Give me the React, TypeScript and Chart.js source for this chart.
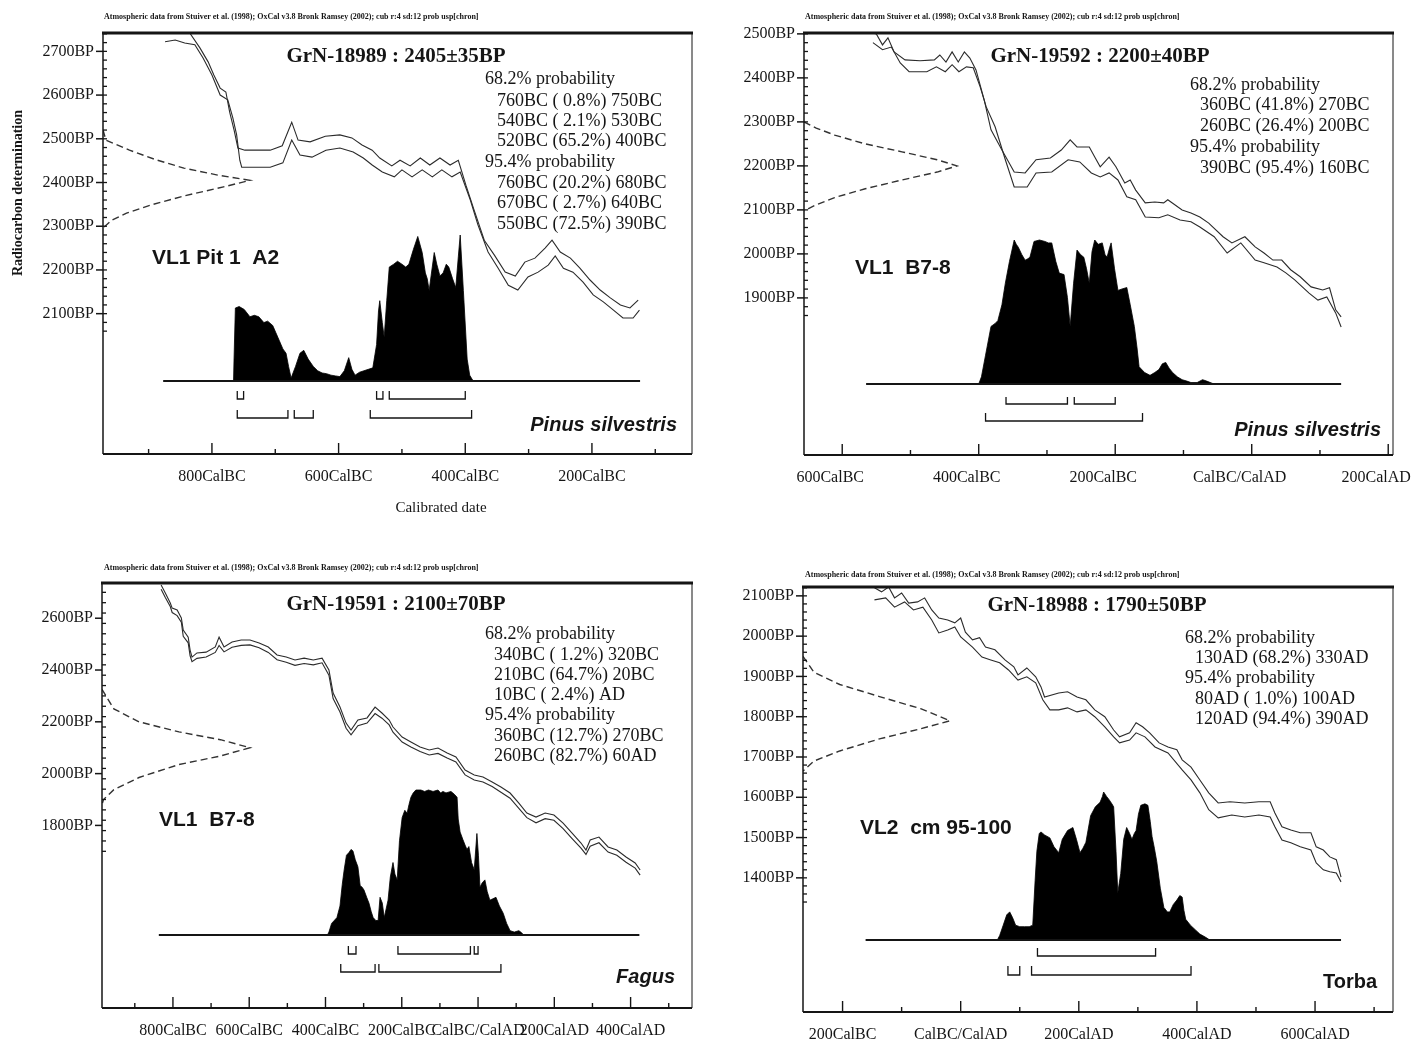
import React, { useEffect, useRef } from "react";
import { Chart, registerables } from "chart.js";

Chart.register(...registerables);

const SERIF = '"Liberation Serif", "Times New Roman", serif';
const SANS = '"Liberation Sans", Arial, sans-serif';
const INK = "#151515";

// ---------------- Panel 1 : GrN-18989 ----------------
const p1UpperYears = [-882, -858, -835, -819, -806, -797, -787, -778, -772, -765, -759, -748, -708, -689, -674, -664, -645, -621, -598, -579, -563, -547, -535, -516, -503, -487, -471, -456, -440, -424, -411, -399, -386, -370, -354, -337, -321, -306, -290, -274, -263, -250, -234, -219, -203, -187, -171, -155, -140, -127];
const p1UpperBP = [2760, 2749, 2742, 2708, 2676, 2646, 2616, 2607, 2561, 2520, 2479, 2474, 2474, 2484, 2538, 2497, 2493, 2506, 2509, 2502, 2486, 2474, 2456, 2438, 2451, 2438, 2456, 2440, 2456, 2440, 2451, 2394, 2337, 2268, 2234, 2195, 2186, 2218, 2227, 2250, 2268, 2241, 2227, 2204, 2177, 2154, 2136, 2120, 2113, 2131];
const p1LowerYears = [-874, -858, -843, -827, -814, -800, -787, -775, -767, -761, -756, -753, -708, -688, -674, -661, -642, -620, -598, -577, -561, -547, -531, -512, -500, -484, -468, -452, -437, -421, -408, -392, -380, -364, -348, -332, -317, -301, -285, -269, -258, -245, -230, -214, -198, -182, -166, -151, -135, -125];
const p1LowerBP = [2722, 2726, 2719, 2715, 2685, 2646, 2600, 2589, 2548, 2509, 2451, 2435, 2435, 2445, 2497, 2463, 2458, 2474, 2479, 2470, 2456, 2440, 2424, 2413, 2429, 2413, 2429, 2413, 2429, 2413, 2424, 2360, 2303, 2241, 2204, 2165, 2154, 2184, 2195, 2211, 2232, 2204, 2195, 2172, 2143, 2127, 2108, 2090, 2090, 2108];
const p1ProbYears = [-766, -763, -757, -749, -740, -733, -726, -718, -712, -704, -699, -694, -688, -683, -679, -675, -668, -661, -655, -648, -640, -633, -626, -619, -612, -605, -598, -591, -584, -579, -574, -567, -560, -553, -546, -540, -537, -535, -531, -528, -524, -520, -513, -507, -500, -494, -489, -482, -475, -468, -463, -460, -457, -454, -449, -445, -440, -435, -430, -426, -420, -415, -411, -408, -403, -397, -393, -389, -386];
const p1Prob = [0, 0.5, 0.51, 0.49, 0.44, 0.45, 0.44, 0.4, 0.41, 0.38, 0.33, 0.28, 0.22, 0.19, 0.1, 0.02, 0.1, 0.19, 0.21, 0.15, 0.1, 0.07, 0.055, 0.05, 0.04, 0.035, 0.03, 0.07, 0.16, 0.08, 0.04, 0.06, 0.07, 0.08, 0.09, 0.25, 0.48, 0.55, 0.4, 0.3, 0.55, 0.78, 0.8, 0.82, 0.8, 0.78, 0.8, 0.9, 0.99, 0.88, 0.74, 0.7, 0.62, 0.72, 0.88, 0.8, 0.72, 0.74, 0.8, 0.78, 0.7, 0.64, 0.85, 1.0, 0.62, 0.15, 0.04, 0.01, 0];
const p1Range68 = [[-760, -750], [-540, -530], [-520, -400]];
const p1Range95 = [[-760, -680], [-670, -640], [-550, -390]];
const p1GaussBP = [2520, 2497, 2474, 2452, 2433, 2417, 2405, 2390, 2370, 2350, 2330, 2314, 2296];
const p1GaussDensity = [0, 0.02, 0.18, 0.36, 0.55, 0.78, 1.0, 0.82, 0.56, 0.34, 0.16, 0.06, 0];
const p1BaselineYears = [-877, -124];
const p1YTickLabels = [2100, 2200, 2300, 2400, 2500, 2600, 2700];
const p1XTickLabels = [-800, -600, -400, -200];

// ---------------- Panel 2 : GrN-19592 ----------------
const p2UpperYears = [-562, -550, -541, -533, -524, -508, -486, -465, -457, -448, -439, -430, -421, -413, -404, -392, -382, -366, -348, -332, -316, -295, -279, -266, -256, -238, -230, -222, -209, -199, -186, -178, -170, -156, -142, -129, -123, -102, -89, -76, -63, -42, -29, -10, 5, 18, 31, 44, 57, 71, 87, 104, 114, 123, 131];
const p2UpperBP = [2505, 2500, 2475, 2491, 2459, 2441, 2439, 2441, 2452, 2436, 2459, 2436, 2459, 2445, 2418, 2350, 2282, 2236, 2186, 2184, 2214, 2218, 2236, 2259, 2243, 2243, 2220, 2198, 2220, 2198, 2161, 2168, 2145, 2116, 2118, 2116, 2123, 2100, 2093, 2084, 2070, 2039, 2025, 2039, 2016, 2002, 1986, 1986, 1964, 1948, 1925, 1918, 1923, 1873, 1857];
const p2LowerYears = [-555, -541, -528, -515, -502, -476, -462, -449, -439, -429, -418, -408, -398, -389, -376, -361, -348, -329, -316, -293, -269, -252, -235, -222, -209, -196, -183, -170, -156, -136, -123, -105, -89, -76, -55, -36, -16, 5, 18, 37, 50, 63, 84, 97, 110, 123, 131];
const p2LowerBP = [2480, 2464, 2470, 2434, 2414, 2414, 2425, 2414, 2430, 2414, 2425, 2423, 2380, 2334, 2289, 2214, 2152, 2152, 2184, 2186, 2214, 2209, 2184, 2175, 2184, 2168, 2130, 2123, 2084, 2082, 2089, 2077, 2073, 2061, 2039, 2002, 2025, 1986, 1980, 1970, 1957, 1941, 1911, 1895, 1902, 1866, 1834];
const p2ProbYears = [-400, -396, -390, -382, -376, -372, -366, -361, -355, -348, -345, -342, -337, -332, -328, -325, -319, -311, -303, -298, -293, -287, -282, -275, -270, -266, -261, -256, -251, -246, -242, -238, -234, -230, -225, -219, -215, -212, -208, -206, -201, -196, -190, -183, -178, -172, -168, -165, -157, -149, -142, -136, -131, -126, -121, -116, -109, -102, -95, -89, -80, -72, -66, -58, -55];
const p2Prob = [0, 0.05, 0.2, 0.4, 0.42, 0.44, 0.55, 0.7, 0.85, 1.0, 0.97, 0.95, 0.9, 0.86, 0.87, 0.88, 0.99, 1.0, 0.99, 0.98, 0.98, 0.85, 0.77, 0.76, 0.6, 0.4, 0.7, 0.93, 0.9, 0.88, 0.8, 0.7, 0.92, 1.0, 0.97, 0.98, 0.9, 0.88, 0.95, 0.98, 0.8, 0.65, 0.66, 0.67, 0.55, 0.4, 0.25, 0.12, 0.08, 0.06, 0.08, 0.1, 0.14, 0.15, 0.11, 0.08, 0.05, 0.03, 0.02, 0.01, 0.01, 0.03, 0.02, 0.005, 0];
const p2Range68 = [[-360, -270], [-260, -200]];
const p2Range95 = [[-390, -160]];
const p2GaussBP = [2300, 2286, 2270, 2250, 2232, 2214, 2200, 2186, 2168, 2148, 2128, 2110, 2098];
const p2GaussDensity = [0, 0.08, 0.2, 0.4, 0.64, 0.87, 1.0, 0.87, 0.64, 0.4, 0.2, 0.07, 0];
const p2BaselineYears = [-565, 131];
const p2YTickLabels = [1900, 2000, 2100, 2200, 2300, 2400, 2500];
const p2XTickLabels = [-600, -400, -200, 0, 200];

// ---------------- Panel 3 : GrN-19591 ----------------
const p3CurveYears = [-831, -820, -807, -802, -789, -778, -773, -760, -755, -750, -737, -713, -689, -679, -666, -645, -621, -598, -574, -550, -527, -503, -480, -456, -432, -409, -391, -380, -362, -346, -333, -315, -291, -270, -252, -233, -223, -199, -176, -152, -128, -105, -81, -58, -34, -10, 13, 37, 60, 84, 107, 128, 152, 176, 199, 223, 246, 270, 283, 294, 317, 341, 364, 388, 412, 425];
const p3UpperBP = [2728, 2697, 2659, 2639, 2632, 2601, 2554, 2527, 2477, 2450, 2466, 2469, 2489, 2527, 2489, 2508, 2516, 2516, 2504, 2489, 2458, 2450, 2439, 2446, 2439, 2446, 2400, 2311, 2257, 2195, 2168, 2207, 2215, 2257, 2234, 2207, 2180, 2141, 2122, 2103, 2091, 2099, 2080, 2064, 2014, 1995, 1987, 1968, 1948, 1925, 1886, 1848, 1832, 1848, 1840, 1809, 1771, 1732, 1705, 1744, 1755, 1717, 1705, 1678, 1655, 1628];
const p3LowerBP = [2712, 2680, 2645, 2622, 2610, 2585, 2530, 2505, 2455, 2432, 2445, 2450, 2468, 2495, 2470, 2488, 2495, 2497, 2486, 2468, 2440, 2430, 2418, 2425, 2420, 2428, 2380, 2290, 2238, 2175, 2150, 2185, 2195, 2232, 2214, 2188, 2160, 2122, 2103, 2085, 2072, 2078, 2060, 2045, 1995, 1975, 1968, 1950, 1928, 1905, 1866, 1830, 1810, 1826, 1820, 1788, 1750, 1712, 1688, 1720, 1733, 1697, 1685, 1658, 1635, 1608];
const p3ProbYears = [-395, -391, -384, -370, -362, -356, -351, -345, -338, -333, -328, -322, -315, -309, -304, -299, -292, -286, -280, -275, -268, -262, -257, -251, -246, -241, -236, -230, -223, -218, -212, -206, -199, -192, -186, -181, -176, -170, -163, -150, -140, -130, -118, -105, -98, -92, -84, -71, -62, -55, -52, -47, -40, -34, -29, -24, -17, -10, -3, 1, 5, 11, 18, 24, 31, 39, 47, 56, 66, 75, 84, 95, 107, 112, 120];
const p3Prob = [0, 0.02, 0.08, 0.12, 0.2, 0.35, 0.45, 0.55, 0.57, 0.59, 0.58, 0.52, 0.47, 0.34, 0.33, 0.31, 0.26, 0.22, 0.16, 0.12, 0.1, 0.1, 0.26, 0.22, 0.12, 0.18, 0.24, 0.4, 0.5, 0.42, 0.38, 0.65, 0.81, 0.86, 0.84, 0.9, 0.95, 0.98, 1.0, 1.0, 0.99, 1.0, 0.99, 1.0, 0.98, 0.99, 0.98, 0.99, 0.97, 0.95, 0.8, 0.71, 0.66, 0.62, 0.59, 0.61, 0.5, 0.45, 0.7, 0.55, 0.33, 0.36, 0.38, 0.3, 0.24, 0.25, 0.26, 0.2, 0.15, 0.08, 0.03, 0.02, 0.03, 0.02, 0];
const p3Range68 = [[-340, -320], [-210, -20], [-10, 0]];
const p3Range95 = [[-360, -270], [-260, 60]];
const p3GaussBP = [2325, 2250, 2200, 2161, 2131, 2100, 2068, 2035, 1985, 1938, 1900, 1880];
const p3GaussDensity = [0, 0.08, 0.25, 0.52, 0.8, 1.0, 0.8, 0.52, 0.25, 0.08, 0.01, 0];
const p3BaselineYears = [-837, 423];
const p3YTickLabels = [1800, 2000, 2200, 2400, 2600];
const p3XTickLabels = [-800, -600, -400, -200, 0, 200, 400];

// ---------------- Panel 4 : GrN-18988 ----------------
const p4UpperYears = [-146, -134, -122, -112, -100, -88, -73, -61, -49, -37, -22, -10, 0, 8, 20, 32, 42, 58, 75, 90, 97, 112, 127, 136, 142, 166, 181, 197, 212, 227, 244, 259, 269, 286, 297, 308, 320, 336, 351, 366, 375, 390, 405, 420, 436, 456, 481, 505, 524, 532, 544, 559, 575, 593, 602, 614, 625, 636, 644];
const p4UpperBP = [2120, 2110, 2122, 2095, 2107, 2082, 2085, 2095, 2065, 2045, 2040, 2033, 2045, 2010, 1991, 1996, 1973, 1966, 1941, 1924, 1904, 1921, 1899, 1874, 1849, 1859, 1862, 1849, 1842, 1817, 1800, 1767, 1750, 1760, 1785, 1775, 1760, 1735, 1725, 1718, 1693, 1675, 1643, 1611, 1586, 1589, 1586, 1589, 1589, 1561, 1527, 1519, 1512, 1512, 1477, 1469, 1452, 1445, 1402];
const p4LowerYears = [-146, -127, -112, -95, -80, -64, -49, -37, -22, -10, 0, 20, 36, 51, 66, 81, 97, 112, 127, 139, 151, 166, 181, 197, 212, 227, 244, 259, 269, 286, 297, 312, 329, 351, 375, 390, 405, 420, 436, 459, 481, 505, 524, 532, 544, 559, 575, 593, 602, 614, 625, 636, 644];
const p4LowerBP = [2090, 2095, 2072, 2085, 2065, 2072, 2040, 2008, 2015, 2023, 1998, 1973, 1948, 1941, 1934, 1916, 1891, 1899, 1884, 1842, 1817, 1817, 1822, 1812, 1817, 1800, 1775, 1750, 1735, 1742, 1760, 1750, 1725, 1710, 1668, 1643, 1611, 1569, 1549, 1556, 1551, 1556, 1551, 1527, 1494, 1487, 1477, 1469, 1437, 1420, 1415, 1412, 1390];
const p4ProbYears = [62, 66, 72, 78, 83, 88, 93, 100, 108, 116, 122, 126, 129, 133, 136, 142, 151, 158, 166, 172, 181, 190, 196, 202, 207, 212, 216, 220, 228, 236, 240, 242, 247, 251, 256, 259, 263, 266, 271, 276, 281, 286, 290, 294, 297, 301, 305, 312, 317, 321, 324, 328, 332, 338, 344, 350, 354, 360, 366, 371, 375, 378, 381, 389, 397, 405, 414, 420, 424];
const p4Prob = [0, 0.03, 0.1, 0.17, 0.19, 0.15, 0.1, 0.09, 0.09, 0.09, 0.1, 0.4, 0.6, 0.72, 0.73, 0.71, 0.69, 0.63, 0.59, 0.68, 0.74, 0.76, 0.68, 0.59, 0.62, 0.66, 0.75, 0.84, 0.9, 0.93, 0.97, 1.0, 0.97, 0.95, 0.92, 0.9, 0.6, 0.32, 0.45, 0.68, 0.76, 0.72, 0.68, 0.72, 0.74, 0.85, 0.91, 0.92, 0.91, 0.8, 0.7, 0.62, 0.53, 0.35, 0.22, 0.19, 0.19, 0.24, 0.27, 0.3, 0.29, 0.2, 0.14, 0.1, 0.07, 0.04, 0.02, 0.005, 0];
const p4Range68 = [[130, 330]];
const p4Range95 = [[80, 100], [120, 390]];
const p4GaussBP = [1950, 1910, 1880, 1850, 1820, 1790, 1770, 1745, 1715, 1690, 1665];
const p4GaussDensity = [0, 0.075, 0.25, 0.52, 0.8, 1.0, 0.8, 0.52, 0.25, 0.075, 0];
const p4BaselineYears = [-161, 644];
const p4YTickLabels = [1400, 1500, 1600, 1700, 1800, 1900, 2000, 2100];
const p4XTickLabels = [-200, 0, 200, 400, 600];

const HEADER = "Atmospheric data from Stuiver et al. (1998); OxCal v3.8 Bronk Ramsey (2002); cub r:4 sd:12 prob usp[chron]";

type TextItem = { text: string; x: number; y: number; font: string; align?: CanvasTextAlign; maxWidth?: number; rotate?: boolean };

type PanelCfg = {
  box: { left: number; top: number; width: number; height: number };
  frame: { L: number; R: number; T: number; B: number };
  xMin: number; xMax: number; yMin: number; yMax: number;
  xLabels: number[]; yLabels: number[]; minorFrom: number; minorStep: number; labelOffset: number;
  baselinePx: number; peakPx: number; gaussPeakPx: number;
  row68: [number, number]; row95: [number, number];
  upperX: number[]; upperY: number[]; lowerX: number[]; lowerY: number[];
  probX: number[]; probY: number[]; r68: number[][]; r95: number[][];
  gaussBP: number[]; gaussD: number[]; baseX: number[];
  texts: TextItem[];
};

const fTitle = `bold 21px ${SERIF}`;
const fProb = `18px ${SERIF}`;
const fSample = `bold 21px ${SANS}`;
const fSpecies = `italic bold 20px ${SANS}`;
const fHeader = `bold 8px ${SERIF}`;

function probTexts(lines: string[], x0: number, x1: number, ys: number[]): TextItem[] {
  return lines.map((t, i) => ({ text: t, x: t.includes("probability") ? x0 : x1, y: ys[i], font: fProb, align: "left" as CanvasTextAlign }));
}

const panels: PanelCfg[] = [
  {
    box: { left: 0, top: 0, width: 700, height: 530 },
    frame: { L: 103, R: 692, T: 33, B: 454 },
    xMin: -972, xMax: -42, yMin: 1779, yMax: 2742,
    xLabels: p1XTickLabels, yLabels: p1YTickLabels, minorFrom: 2060, minorStep: 20, labelOffset: 0,
    baselinePx: 381, peakPx: 235, gaussPeakPx: 250,
    row68: [391, 399], row95: [410, 418],
    upperX: p1UpperYears, upperY: p1UpperBP, lowerX: p1LowerYears, lowerY: p1LowerBP,
    probX: p1ProbYears, probY: p1Prob, r68: p1Range68, r95: p1Range95,
    gaussBP: p1GaussBP, gaussD: p1GaussDensity, baseX: p1BaselineYears,
    texts: [
      { text: HEADER, x: 104, y: 17, font: fHeader, align: "left", maxWidth: 400 },
      { text: "GrN-18989 : 2405±35BP", x: 396, y: 57, font: fTitle, align: "center" },
      ...probTexts(["68.2% probability", "760BC ( 0.8%) 750BC", "540BC ( 2.1%) 530BC", "520BC (65.2%) 400BC", "95.4% probability", "760BC (20.2%) 680BC", "670BC ( 2.7%) 640BC", "550BC (72.5%) 390BC"], 485, 497, [79, 101, 121, 141, 162, 183, 203, 224]),
      { text: "VL1 Pit 1  A2", x: 152, y: 258, font: fSample, align: "left" },
      { text: "Pinus silvestris", x: 677, y: 425, font: fSpecies, align: "right" },
      { text: "Radiocarbon determination", x: 18, y: 193, font: `bold 14px ${SERIF}`, align: "center", rotate: true },
      { text: "Calibrated date", x: 441, y: 508, font: `15px ${SERIF}`, align: "center" },
    ],
  },
  {
    box: { left: 700, top: 0, width: 711, height: 530 },
    frame: { L: 804, R: 1393, T: 33, B: 455 },
    xMin: -656, xMax: 207, yMin: 1543, yMax: 2502,
    xLabels: p2XTickLabels, yLabels: p2YTickLabels, minorFrom: 1860, minorStep: 20, labelOffset: -12,
    baselinePx: 384, peakPx: 240, gaussPeakPx: 957,
    row68: [397, 404], row95: [413, 421],
    upperX: p2UpperYears, upperY: p2UpperBP, lowerX: p2LowerYears, lowerY: p2LowerBP,
    probX: p2ProbYears, probY: p2Prob, r68: p2Range68, r95: p2Range95,
    gaussBP: p2GaussBP, gaussD: p2GaussDensity, baseX: p2BaselineYears,
    texts: [
      { text: HEADER, x: 805, y: 17, font: fHeader, align: "left", maxWidth: 404 },
      { text: "GrN-19592 : 2200±40BP", x: 1100, y: 57, font: fTitle, align: "center" },
      ...probTexts(["68.2% probability", "360BC (41.8%) 270BC", "260BC (26.4%) 200BC", "95.4% probability", "390BC (95.4%) 160BC"], 1190, 1200, [85, 105, 126, 147, 168]),
      { text: "VL1  B7-8", x: 855, y: 268, font: fSample, align: "left" },
      { text: "Pinus silvestris", x: 1381, y: 430, font: fSpecies, align: "right" },
    ],
  },
  {
    box: { left: 0, top: 540, width: 700, height: 506 },
    frame: { L: 102, R: 692, T: 583, B: 1008 },
    xMin: -986, xMax: 561, yMin: 1095, yMax: 2736,
    xLabels: p3XTickLabels, yLabels: p3YTickLabels, minorFrom: 1700, minorStep: 40, labelOffset: 0,
    baselinePx: 935, peakPx: 790, gaussPeakPx: 250,
    row68: [946, 954], row95: [964, 972],
    upperX: p3CurveYears, upperY: p3UpperBP, lowerX: p3CurveYears, lowerY: p3LowerBP,
    probX: p3ProbYears, probY: p3Prob, r68: p3Range68, r95: p3Range95,
    gaussBP: p3GaussBP, gaussD: p3GaussDensity, baseX: p3BaselineYears,
    texts: [
      { text: HEADER, x: 104, y: 568, font: fHeader, align: "left", maxWidth: 400 },
      { text: "GrN-19591 : 2100±70BP", x: 396, y: 605, font: fTitle, align: "center" },
      ...probTexts(["68.2% probability", "340BC ( 1.2%) 320BC", "210BC (64.7%) 20BC", "10BC ( 2.4%) AD", "95.4% probability", "360BC (12.7%) 270BC", "260BC (82.7%) 60AD"], 485, 494, [634, 655, 675, 695, 715, 736, 756]),
      { text: "VL1  B7-8", x: 159, y: 820, font: fSample, align: "left" },
      { text: "Fagus", x: 675, y: 977, font: fSpecies, align: "right" },
    ],
  },
  {
    box: { left: 700, top: 540, width: 711, height: 506 },
    frame: { L: 803, R: 1393, T: 587, B: 1012 },
    xMin: -267, xMax: 732, yMin: 1067, yMax: 2122,
    xLabels: p4XTickLabels, yLabels: p4YTickLabels, minorFrom: 1340, minorStep: 20, labelOffset: 0,
    baselinePx: 940, peakPx: 792, gaussPeakPx: 950,
    row68: [948, 956], row95: [966, 975],
    upperX: p4UpperYears, upperY: p4UpperBP, lowerX: p4LowerYears, lowerY: p4LowerBP,
    probX: p4ProbYears, probY: p4Prob, r68: p4Range68, r95: p4Range95,
    gaussBP: p4GaussBP, gaussD: p4GaussDensity, baseX: p4BaselineYears,
    texts: [
      { text: HEADER, x: 805, y: 575, font: fHeader, align: "left", maxWidth: 404 },
      { text: "GrN-18988 : 1790±50BP", x: 1097, y: 606, font: fTitle, align: "center" },
      ...probTexts(["68.2% probability", "130AD (68.2%) 330AD", "95.4% probability", "80AD ( 1.0%) 100AD", "120AD (94.4%) 390AD"], 1185, 1195, [638, 658, 678, 699, 719]),
      { text: "VL2  cm 95-100", x: 860, y: 828, font: fSample, align: "left" },
      { text: "Torba", x: 1377, y: 982, font: `bold 20px ${SANS}`, align: "right" },
    ],
  },
];

const pairs = (xs: number[], ys: number[]) => xs.map((x, i) => ({ x, y: ys[i] }));

function bracketPoints(ranges: number[][], topV: number, botV: number) {
  const out: { x: number; y: number | null }[] = [];
  ranges.forEach(([s, e]) => {
    out.push({ x: s, y: topV }, { x: s, y: botV }, { x: e, y: botV }, { x: e, y: topV }, { x: e, y: null });
  });
  return out;
}

function calLabel(v: number) {
  if (v < 0) return `${-v}CalBC`;
  if (v === 0) return "CalBC/CalAD";
  return `${v}CalAD`;
}

function seg(ctx: CanvasRenderingContext2D, x1: number, y1: number, x2: number, y2: number, w: number) {
  ctx.lineWidth = w;
  ctx.beginPath();
  ctx.moveTo(x1, y1);
  ctx.lineTo(x2, y2);
  ctx.stroke();
}

function decorPlugin(p: PanelCfg) {
  return {
    id: "decor",
    afterDraw(chart: any) {
      const ctx: CanvasRenderingContext2D = chart.ctx;
      const { left, right, top, bottom } = chart.chartArea;
      const xs = chart.scales.x;
      const ys = chart.scales.y;
      ctx.save();
      ctx.strokeStyle = INK;
      seg(ctx, left - 1, top, right + 1, top, 3);
      seg(ctx, left, top, left, bottom, 1.5);
      seg(ctx, right, top, right, bottom, 1);
      seg(ctx, left, bottom, right, bottom, 2);
      for (const v of p.yLabels) {
        const y = ys.getPixelForValue(v);
        seg(ctx, left - 7, y, left, y, 1.5);
      }
      for (let v = p.minorFrom; v <= p.yMax; v += p.minorStep) {
        const y = ys.getPixelForValue(v);
        seg(ctx, left, y, left + 4, y, 1.3);
      }
      for (let v = Math.ceil(p.xMin / 100) * 100; v <= p.xMax; v += 100) {
        const x = xs.getPixelForValue(v);
        const major = Math.abs(v) % 200 === 0;
        seg(ctx, x, bottom, x, bottom - (major ? 11 : 5), 1.4);
      }
      ctx.fillStyle = INK;
      ctx.textBaseline = "middle";
      for (const t of p.texts) {
        ctx.font = t.font;
        ctx.textAlign = t.align || "left";
        const x = t.x - p.box.left;
        const y = t.y - p.box.top;
        if (t.rotate) {
          ctx.save();
          ctx.translate(x, y);
          ctx.rotate(-Math.PI / 2);
          ctx.fillText(t.text, 0, 0);
          ctx.restore();
        } else if (t.maxWidth) {
          ctx.fillText(t.text, x, y, t.maxWidth);
        } else {
          ctx.fillText(t.text, x, y);
        }
      }
      ctx.restore();
    },
  };
}

function makeConfig(p: PanelCfg): any {
  const unit = p.baselinePx - p.peakPx;
  const toYp = (px: number) => (p.baselinePx - px) / unit;
  const ypMax = toYp(p.frame.T);
  const ypMin = toYp(p.frame.B);
  const xgMax = (p.frame.R - p.frame.L) / (p.gaussPeakPx - p.frame.L);
  const yAxisWidth = p.frame.L - p.box.left;
  const xAxisHeight = p.box.top + p.box.height - p.frame.B;
  const line = { pointRadius: 0, tension: 0, fill: false, spanGaps: false };
  return {
    type: "line",
    data: {
      datasets: [
        { ...line, data: pairs(p.upperX, p.upperY), xAxisID: "x", yAxisID: "y", borderColor: "#2b2b2b", borderWidth: 1.1 },
        { ...line, data: pairs(p.lowerX, p.lowerY), xAxisID: "x", yAxisID: "y", borderColor: "#2b2b2b", borderWidth: 1.1 },
        { ...line, data: bracketPoints(p.r68, toYp(p.row68[0]), toYp(p.row68[1])), xAxisID: "x", yAxisID: "yp", borderColor: INK, borderWidth: 1.3 },
        { ...line, data: bracketPoints(p.r95, toYp(p.row95[0]), toYp(p.row95[1])), xAxisID: "x", yAxisID: "yp", borderColor: INK, borderWidth: 1.3 },
        { ...line, data: [{ x: p.baseX[0], y: 0 }, { x: p.baseX[1], y: 0 }], xAxisID: "x", yAxisID: "yp", borderColor: INK, borderWidth: 2 },
        { ...line, data: pairs(p.probX, p.probY), xAxisID: "x", yAxisID: "yp", borderColor: "#000", borderWidth: 0.8, backgroundColor: "#000", fill: "origin" },
        { ...line, data: pairs(p.gaussD, p.gaussBP), xAxisID: "xg", yAxisID: "y", borderColor: "#333", borderWidth: 1.4, borderDash: [7, 4] },
      ],
    },
    options: {
      responsive: false,
      animation: false,
      events: [],
      layout: { padding: { left: 0, top: p.frame.T - p.box.top, right: p.box.left + p.box.width - p.frame.R, bottom: 0 } },
      plugins: { legend: { display: false }, tooltip: { enabled: false }, title: { display: false } },
      scales: {
        x: {
          type: "linear", position: "bottom", min: p.xMin, max: p.xMax,
          grid: { display: false, drawTicks: false }, border: { display: false },
          afterBuildTicks: (s: any) => { s.ticks = p.xLabels.map((v) => ({ value: v })); },
          ticks: { autoSkip: false, maxRotation: 0, minRotation: 0, padding: 13, labelOffset: p.labelOffset, color: INK, font: { family: SERIF, size: 16 }, callback: (v: number) => calLabel(Math.round(v)) },
          afterFit: (s: any) => { s.height = xAxisHeight; s.paddingLeft = 0; s.paddingRight = 0; },
        },
        y: {
          type: "linear", position: "left", min: p.yMin, max: p.yMax,
          grid: { display: false, drawTicks: false }, border: { display: false },
          afterBuildTicks: (s: any) => { s.ticks = p.yLabels.map((v) => ({ value: v })); },
          ticks: { autoSkip: false, padding: 9, color: INK, font: { family: SERIF, size: 16 }, callback: (v: number) => `${Math.round(v)}BP` },
          afterFit: (s: any) => { s.width = yAxisWidth; s.paddingTop = 0; s.paddingBottom = 0; },
        },
        xg: { type: "linear", display: false, min: 0, max: xgMax },
        yp: { type: "linear", display: false, min: ypMin, max: ypMax },
      },
    },
    plugins: [decorPlugin(p)],
  };
}

function Panel({ cfg }: { cfg: PanelCfg }) {
  const ref = useRef<HTMLCanvasElement>(null);
  useEffect(() => {
    if (!ref.current) return;
    const chart = new Chart(ref.current, makeConfig(cfg));
    return () => chart.destroy();
  }, [cfg]);
  return (
    <canvas
      ref={ref}
      width={cfg.box.width}
      height={cfg.box.height}
      style={{ position: "absolute", left: cfg.box.left, top: cfg.box.top, width: cfg.box.width, height: cfg.box.height }}
    />
  );
}

export default function App() {
  return (
    <div style={{ position: "absolute", left: 0, top: 0, width: 1411, height: 1046, background: "#fff", overflow: "hidden" }}>
      {panels.map((p, i) => (
        <Panel key={i} cfg={p} />
      ))}
    </div>
  );
}
